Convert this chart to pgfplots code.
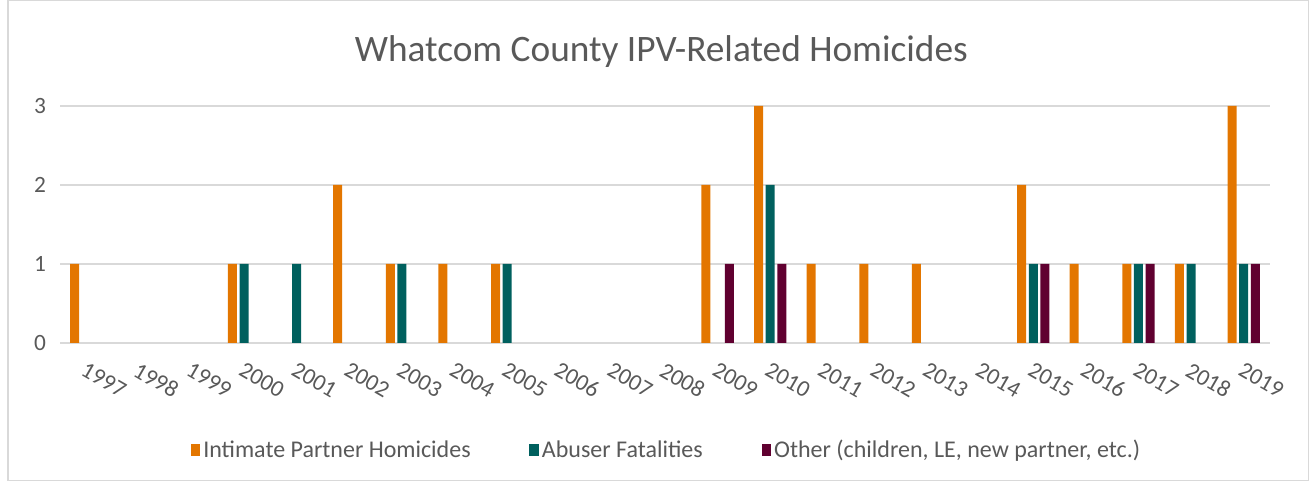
\documentclass[border=0pt]{standalone}
\usepackage{pgfplots}
\pgfplotsset{compat=1.18}
\usepackage{fontspec}
\setmainfont{Carlito}
\definecolor{ipho}{HTML}{E37600}
\definecolor{abusr}{HTML}{00605E}
\definecolor{othr}{HTML}{600030}
\definecolor{txtg}{HTML}{595959}
\definecolor{gridg}{HTML}{D9D9D9}
\begin{document}
\begin{tikzpicture}
\useasboundingbox (-45pt,-103.5pt) rectangle (937.5pt,257.25pt);
\draw[gridg, line width=0.8pt] (-39pt,-103pt) rectangle (936.5pt,256.8pt);
\begin{axis}[
    at={(0pt,0pt)}, anchor=south west,
    scale only axis,
    width=907.5pt, height=177.75pt,
    ybar=2pt, bar width=6.75pt,
    xmin=-0.5, xmax=22.5,
    ymin=0, ymax=3,
    axis line style={draw=none},
    major tick length=0pt,
    ytick={0,1,2,3},
    ymajorgrids,
    grid style={gridg, line width=1pt},
    xtick={0,...,22},
    xticklabels={1997,1998,1999,2000,2001,2002,2003,2004,2005,2006,2007,2008,2009,2010,2011,2012,2013,2014,2015,2016,2017,2018,2019},
    xticklabel style={rotate=-30, anchor=north west, xshift=4pt, yshift=-8pt},
    yticklabel style={xshift=-7pt},
    /pgf/number format/assume math mode=true,
    tick label style={font=\fontsize{17.5}{20}\selectfont, text=txtg},
    legend columns=3,
    legend style={at={(0.5017,-0.451)}, anchor=center, draw=none,
        font=\fontsize{18}{21}\selectfont, text=txtg,
        nodes={inner xsep=2.5pt},
        /tikz/every even column/.append style={column sep=41.5pt}},
    legend image code/.code={\fill[#1] (0pt,-4.5pt) rectangle (7pt,4.5pt);},
]
\addplot[fill=ipho, draw=none] coordinates {
    (0,1) (3,1) (5,2) (6,1) (7,1) (8,1) (12,2) (13,3) (14,1) (15,1) (16,1) (18,2) (19,1) (20,1) (21,1) (22,3)
};
\addlegendentry{Intimate Partner Homicides}
\addplot[fill=abusr, draw=none] coordinates {
    (3,1) (4,1) (6,1) (8,1) (13,2) (18,1) (20,1) (21,1) (22,1)
};
\addlegendentry{Abuser Fatalities}
\addplot[fill=othr, draw=none] coordinates {
    (12,1) (13,1) (18,1) (20,1) (22,1)
};
\addlegendentry{Other (children, LE, new partner, etc.)}
\end{axis}
\node[text=txtg, font=\fontsize{28}{33}\selectfont] at (451pt,218.5pt) {Whatcom County IPV-Related Homicides};
\end{tikzpicture}
\end{document}
